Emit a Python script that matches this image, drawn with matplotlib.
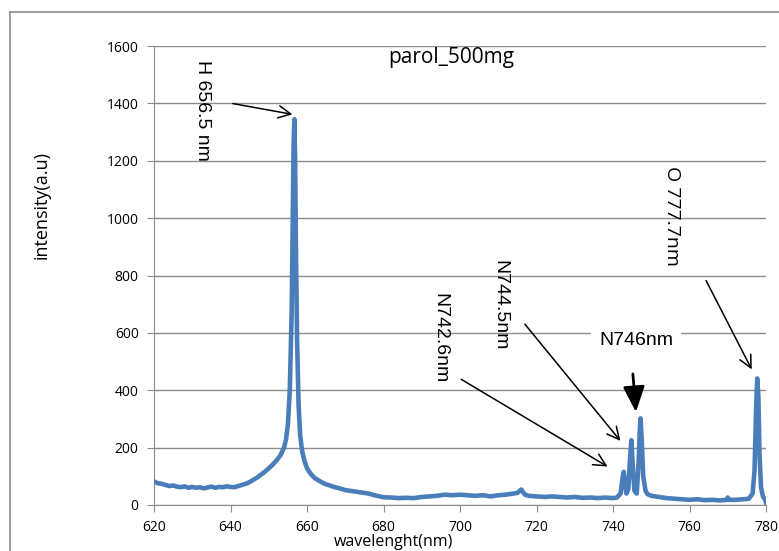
import matplotlib
matplotlib.use("Agg")
import matplotlib.pyplot as plt
from matplotlib.lines import Line2D

# spectrum
wavelength = [
    620, 621, 622, 623, 624, 625, 626, 627, 628, 629, 630, 631, 632, 633, 634,
    635, 636, 637, 638, 639, 640, 641, 642, 643, 644, 645, 646, 647, 648, 649,
    650, 651, 652, 653, 654, 654.5, 655, 655.5, 656, 656.3, 656.5, 656.7,
    656.9, 657.1, 657.4, 657.8, 658.2, 658.7, 659.3, 660, 661, 662, 663, 664,
    665, 666, 667, 668, 669, 670, 672, 674, 676, 678, 680, 682, 684, 686, 688,
    690, 692, 694, 696, 698, 700, 702, 704, 706, 708, 710, 712, 714, 715, 716,
    716.5, 717, 718, 720, 722, 724, 726, 728, 730, 732, 734, 736, 738, 740,
    741, 742, 742.5, 742.8, 743.1, 743.5, 744, 744.4, 744.8, 745.2, 745.6,
    746.2, 746.7, 747.0, 747.2, 747.5, 747.9, 748.5, 749, 750, 752, 754, 756,
    758, 760, 762, 764, 766, 768, 769.8, 770, 770.3, 772, 774, 775.5, 776.5,
    777, 777.4, 777.7, 778, 778.3, 778.7, 779.2, 779.7, 780,
]
intensity = [
    82, 76, 74, 70, 66, 68, 64, 62, 65, 60, 63, 60, 62, 58, 61,
    64, 60, 63, 62, 65, 63, 62, 66, 70, 74, 80, 88, 96, 106, 116,
    128, 140, 155, 172, 200, 228, 280, 400, 680, 1020, 1260, 1345,
    1200, 900, 580, 350, 245, 190, 155, 128, 108, 94, 86, 78,
    72, 68, 63, 60, 56, 52, 48, 44, 40, 33, 27, 26, 24, 25, 24,
    28, 30, 32, 36, 34, 36, 34, 32, 34, 30, 34, 36, 40, 42, 54,
    44, 36, 32, 30, 28, 30, 28, 26, 28, 25, 26, 24, 26, 24,
    26, 40, 95, 116, 80, 40, 55, 150, 226, 130, 50,
    40, 150, 260, 302, 230, 100, 50, 38, 32, 28, 24, 22,
    20, 18, 20, 17, 18, 16, 18, 26, 18, 18, 20, 22, 40,
    120, 330, 441, 380, 180, 60, 30, 20, 8,
]

x_ticks = [620, 640, 660, 680, 700, 720, 740, 760, 780]
y_ticks = [0, 200, 400, 600, 800, 1000, 1200, 1400, 1600]

W, H = 779, 551
fig = plt.figure(figsize=(W / 100, H / 100), dpi=100)
ax = fig.add_axes([154 / W, (H - 505) / H, 612 / W, 459 / H])

ax.plot(wavelength, intensity, color="#4a7ebb", lw=3.3, solid_joinstyle="round", zorder=3)

ax.set_xlim(620, 780)
ax.set_ylim(0, 1600)
ax.set_xticks(x_ticks)
ax.set_yticks(y_ticks)
ax.grid(axis="y", color="#8c8c8c", lw=1)
ax.set_axisbelow(True)
for s in ["top", "right"]:
    ax.spines[s].set_visible(False)
for s in ["left", "bottom"]:
    ax.spines[s].set_color("#8c8c8c")
ax.tick_params(colors="#8c8c8c", length=5, labelcolor="black", labelsize=10, pad=6)
for lab in ax.get_xticklabels() + ax.get_yticklabels():
    lab.set_family("Open Sans")

fig.text(42 / W, 1 - 205 / H, "intensity(a.u)", rotation=90, ha="center", va="center",
         fontsize=13, family="Open Sans")
fig.text(393 / W, 1 / H, "wavelenght(nm)", ha="center", va="bottom",
         fontsize=11.5, family="Open Sans")
fig.text(451 / W, 1 - 58 / H, "parol_500mg", ha="center", va="center",
         fontsize=15, family="Open Sans")

# outer chart frame (cut by the image edges)
fig.add_artist(Line2D([10 / W, 10 / W], [0, 1 - 12 / H], color="#8c8c8c", lw=1.2))
fig.add_artist(Line2D([10 / W, 1], [1 - 12 / H, 1 - 12 / H], color="#8c8c8c", lw=1.2))

arrow = dict(arrowstyle="->", color="black", lw=1.1, mutation_scale=22)
ann = dict(fontsize=14, family="Liberation Sans", ha="center", va="center")

ax.text(632.8, 1377, "H 656.5 nm", rotation=270, **ann)
ax.annotate("", xy=(656.9, 1360), xytext=(639.9, 1401), arrowprops=arrow)

ax.text(710.5, 697, "N744.5nm", rotation=270, **ann)
ax.annotate("", xy=(742.4, 216), xytext=(716.5, 638), arrowprops=arrow)

ax.text(694.8, 582, "N742.6nm", rotation=270, **ann)
ax.annotate("", xy=(739.2, 129), xytext=(699.7, 443), arrowprops=arrow)

ax.text(746.0, 575, "N746nm",
        bbox=dict(facecolor="white", edgecolor="none", pad=6), **ann)
ax.annotate("", xy=(746.0, 324), xytext=(745.2, 457),
            arrowprops=dict(arrowstyle="-|>,head_length=1.3,head_width=0.55",
                            color="black", lw=2, mutation_scale=12,
                            shrinkA=0, shrinkB=0))

ax.text(755.4, 1007, "O 777.7nm", rotation=270, fontsize=14, family="Open Sans",
        ha="center", va="center")
ax.annotate("", xy=(776.6, 464), xytext=(764.0, 791), arrowprops=arrow)

fig.savefig("out.png", dpi=100)
